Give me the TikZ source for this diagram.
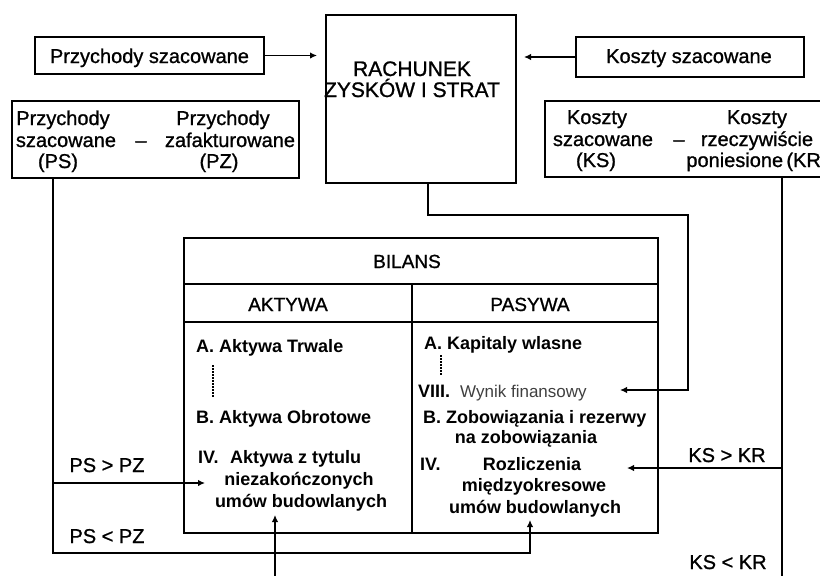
\documentclass[tikz,border=0pt]{standalone}
\usepackage{fontspec}
\setmainfont{Liberation Sans}
\newfontfamily\heavysans{Liberation Sans}[FakeBold=1]
\usetikzlibrary{arrows.meta}
\begin{document}
\begin{tikzpicture}[x=1pt,y=-1pt,
  box/.style={draw,line width=2pt,inner sep=0pt},
  txt/.style={font=\heavysans\fontsize{20}{24}\selectfont,inner sep=0pt},
  rtxt/.style={font=\heavysans\fontsize{21}{25}\selectfont,inner sep=0pt},
  htxt/.style={font=\heavysans\fontsize{19}{23}\selectfont,inner sep=0pt},
  btxt/.style={font=\fontsize{18}{22}\selectfont\bfseries,inner sep=0pt},
  ltxt/.style={font=\fontsize{17}{20}\selectfont,text=black!75,inner sep=0pt},
  conn/.style={line width=1.7pt},
  arr/.style={conn,-{Latex[length=7pt,width=6.5pt]}},
  dotline/.style={line width=2pt,dash pattern=on 1.5pt off 1.5pt}]
\useasboundingbox (0,0) rectangle (820,576);
\clip (0,0) rectangle (820,576);
\fill[white] (0,0) rectangle (820,576);

% top boxes
\node[box, minimum width=229pt, minimum height=37pt] (psbox) at (149.5,55.5) {};
\node[txt, anchor=base] (pstext) at (149.5,63) {Przychody szacowane};
\node[box, minimum width=190pt, minimum height=168pt] (rach) at (421,99) {};
\node[rtxt, anchor=base] (rach1) at (412,76) {RACHUNEK};
\node[rtxt, anchor=base] (rach2) at (412,97) {ZYSKÓW I STRAT};
\node[box, minimum width=228pt, minimum height=40pt] (ksbox) at (690,57) {};
\node[txt, anchor=base] (kstext) at (689,63) {Koszty szacowane};

% difference boxes
\node[box, minimum width=287pt, minimum height=77pt] (psdiff) at (155.5,139.5) {};
\node[txt, anchor=base] (pd1) at (63,125) {Przychody};
\node[txt, anchor=base] (pd2) at (66,147) {szacowane};
\node[txt, anchor=base] (pd3) at (58,168) {(PS)};
\node[txt, anchor=base] (pd4) at (141,147) {–};
\node[txt, anchor=base] (pd5) at (223,125) {Przychody};
\node[txt, anchor=base] (pd6) at (230,147) {zafakturowane};
\node[txt, anchor=base] (pd7) at (219,168) {(PZ)};

\node[box, minimum width=295pt, minimum height=76pt] (ksdiff) at (692.5,139) {};
\node[txt, anchor=base] (kd1) at (597,124) {Koszty};
\node[txt, anchor=base] (kd2) at (603,146) {szacowane};
\node[txt, anchor=base] (kd3) at (596,167) {(KS)};
\node[txt, anchor=base] (kd4) at (679,146) {–};
\node[txt, anchor=base] (kd5) at (757,124) {Koszty};
\node[txt, anchor=base] (kd6) at (757,146) {rzeczywiście};
\node[txt, anchor=base] (kd7) at (757,167) {poniesione\,(KR)};

% bilans
\node[box, minimum width=474pt, minimum height=295pt] (bil) at (421,385.5) {};
\draw[line width=2pt] (bil.west |- 0,284) -- (bil.east |- 0,284);
\draw[line width=2pt] (bil.west |- 0,322) -- (bil.east |- 0,322);
\draw[line width=2pt] (412,284) -- (412,0 |- bil.south);
\node[htxt, anchor=base] (bilt) at (407,268) {BILANS};
\node[htxt, anchor=base] (akt) at (288,311) {AKTYWA};
\node[htxt, anchor=base] (pas) at (530,311) {PASYWA};

\node[btxt, anchor=base west] (a1) at (196,352) {A. Aktywa Trwale};
\draw[dotline] (213,365) -- (213,398);
\node[btxt, anchor=base west] (a2) at (196,423) {B. Aktywa Obrotowe};
\node[btxt, anchor=base west] (a3) at (198,463) {IV.};
\node[btxt, anchor=base west] (a4) at (230,463) {Aktywa z tytulu};
\node[btxt, anchor=base] (a5) at (299,485) {niezakończonych};
\node[btxt, anchor=base] (a6) at (301,507) {umów budowlanych};

\node[btxt, anchor=base west] (p1) at (424,349) {A. Kapitaly wlasne};
\draw[dotline] (441,355) -- (441,376);
\node[btxt, anchor=base west] (p2) at (418,397) {VIII.};
\node[ltxt, anchor=base west] (wynik) at (460,397) {Wynik finansowy};
\node[btxt, anchor=base west] (p3) at (423,423) {B. Zobowiązania i rezerwy};
\node[btxt, anchor=base] (p4) at (526,443) {na zobowiązania};
\node[btxt, anchor=base west] (p5) at (420,470) {IV.};
\node[btxt, anchor=base] (p6) at (532,470) {Rozliczenia};
\node[btxt, anchor=base] (p7) at (534,491) {międzyokresowe};
\node[btxt, anchor=base] (p8) at (535,513) {umów budowlanych};

% condition labels
\node[txt, anchor=base] (c1) at (107,472) {PS > PZ};
\node[txt, anchor=base] (c2) at (107,543) {PS < PZ};
\node[txt, anchor=base] (c3) at (727,462) {KS > KR};
\node[txt, anchor=base] (c4) at (728,569) {KS < KR};

% connectors
\coordinate (wynikin) at (620,390);
\coordinate (aktin) at (205,483);
\coordinate (aktbot) at (275,515);
\coordinate (bottom) at (275,585);
\coordinate (rozlin) at (530,520);
\coordinate (rozlright) at (627,468);
\coordinate (ksbottom) at (782,585);

\draw[arr, shorten >=8pt] (psbox.east) -- (rach.west |- psbox.east);
\draw[arr, shorten >=7pt] (ksbox.west) -- (rach.east |- ksbox.west);
\draw[arr] (rach.south -| 428,0) -- (428,215) -- (688,215) -- (688,390) -- (wynikin);
\draw[arr] (psdiff.south -| 53,0) -- (53,553) -- (530,553) -- (rozlin);
\draw[arr] (53,483) -- (aktin);
\draw[arr] (bottom) -- (aktbot);
\draw[conn] (ksdiff.south -| 782,0) -- (ksbottom);
\draw[arr] (782,468) -- (rozlright);
\end{tikzpicture}
\end{document}
